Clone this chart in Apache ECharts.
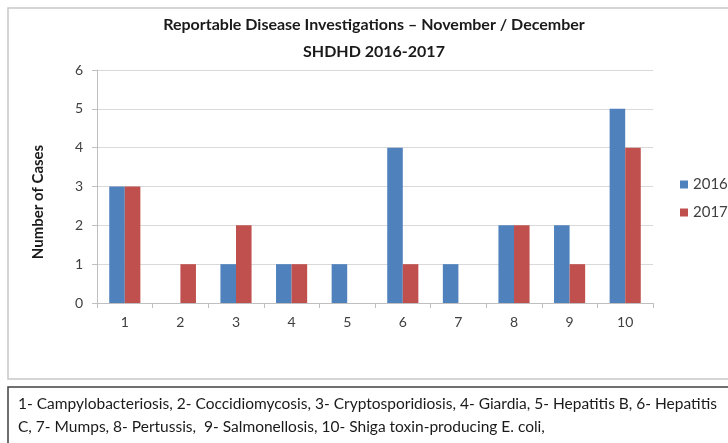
<!DOCTYPE html>
<html>
<head>
<meta charset="utf-8">
<script src="https://cdn.jsdelivr.net/npm/echarts@6/dist/echarts.min.js"></script>
<style>
html,body{margin:0;padding:0;background:#fff;}
#chart{width:728px;height:443px;}
</style>
</head>
<body>
<div id="chart"></div>
<script>
const categories = ['1','2','3','4','5','6','7','8','9','10'];
const seriesNames = ['2016','2017'];
const values2016 = [3,0,1,1,1,4,1,2,2,5];
const values2017 = [3,1,2,1,0,1,0,2,1,4];
const yTicks = [0,1,2,3,4,5,6];
const titleText = 'Reportable Disease Investigations \u2013 November / December';
const subtitleText = 'SHDHD 2016-2017';
const yAxisName = 'Number of Cases';
const footLine1 = '1- Campylobacteriosis, 2- Coccidiomycosis, 3- Cryptosporidiosis, 4- Giardia, 5- Hepatitis B, 6- Hepatitis';
const footLine2 = 'C, 7- Mumps, 8- Pertussis,  9- Salmonellosis, 10- Shiga toxin-producing E. coli,';

const FONT = 'Lato, "Liberation Sans", sans-serif';
const chart = echarts.init(document.getElementById('chart'), null, {renderer:'canvas'});
chart.setOption({
  animation:false,
  backgroundColor:'#ffffff',
  graphic:[
    {type:'rect', shape:{x:8,y:8,width:740,height:371}, style:{fill:'none', stroke:'#c8c8c8', lineWidth:1.5}, z:-1},
    {type:'rect', shape:{x:8,y:387,width:740,height:70}, style:{fill:'none', stroke:'#404040', lineWidth:1.5}, z:-1},
    {type:'text', left:18, top:396, style:{text:footLine1, font:'15.5px '+FONT, fill:'#1a1a1a'}},
    {type:'text', left:18, top:419, style:{text:footLine2, font:'15.5px '+FONT, fill:'#1a1a1a'}},
    {type:'text', x:374, y:25, style:{text:titleText, font:'bold 16px '+FONT, fill:'#1a1a1a', align:'center', verticalAlign:'middle'}},
    {type:'text', x:374, y:52, style:{text:subtitleText, font:'bold 16px '+FONT, fill:'#1a1a1a', align:'center', verticalAlign:'middle'}},
    {type:'text', x:38, y:202, rotation:Math.PI/2, style:{text:yAxisName, font:'bold 15px '+FONT, fill:'#1a1a1a', align:'center', verticalAlign:'middle'}}
  ],
  legend:{
    orient:'vertical', left:675, top:172,
    itemWidth:8, itemHeight:8, itemGap:13,
    icon:'rect',
    textStyle:{fontFamily:FONT, fontSize:15, color:'#404040'},
    data:seriesNames
  },
  grid:{left:97, right:75, top:70, bottom:140},
  xAxis:{
    type:'category', data:categories,
    axisLine:{lineStyle:{color:'#bfbfbf'}},
    axisTick:{show:true, length:5, alignWithLabel:false, lineStyle:{color:'#bfbfbf'}},
    axisLabel:{fontFamily:FONT, fontSize:14, color:'#404040', margin:12}
  },
  yAxis:{
    type:'value', min:yTicks[0], max:yTicks[yTicks.length-1], interval:1,
    axisLine:{show:true, lineStyle:{color:'#bfbfbf'}},
    axisTick:{show:true, length:5, lineStyle:{color:'#bfbfbf'}},
    splitLine:{lineStyle:{color:'#d9d9d9'}},
    axisLabel:{fontFamily:FONT, fontSize:14, color:'#404040', margin:14}
  },
  series:[
    {name:seriesNames[0], type:'bar', data:values2016, barGap:'0%', barCategoryGap:'44%', itemStyle:{color:'#4f81bd'}},
    {name:seriesNames[1], type:'bar', data:values2017, barGap:'0%', barCategoryGap:'44%', itemStyle:{color:'#c0504d'}}
  ]
});
</script>
</body>
</html>
